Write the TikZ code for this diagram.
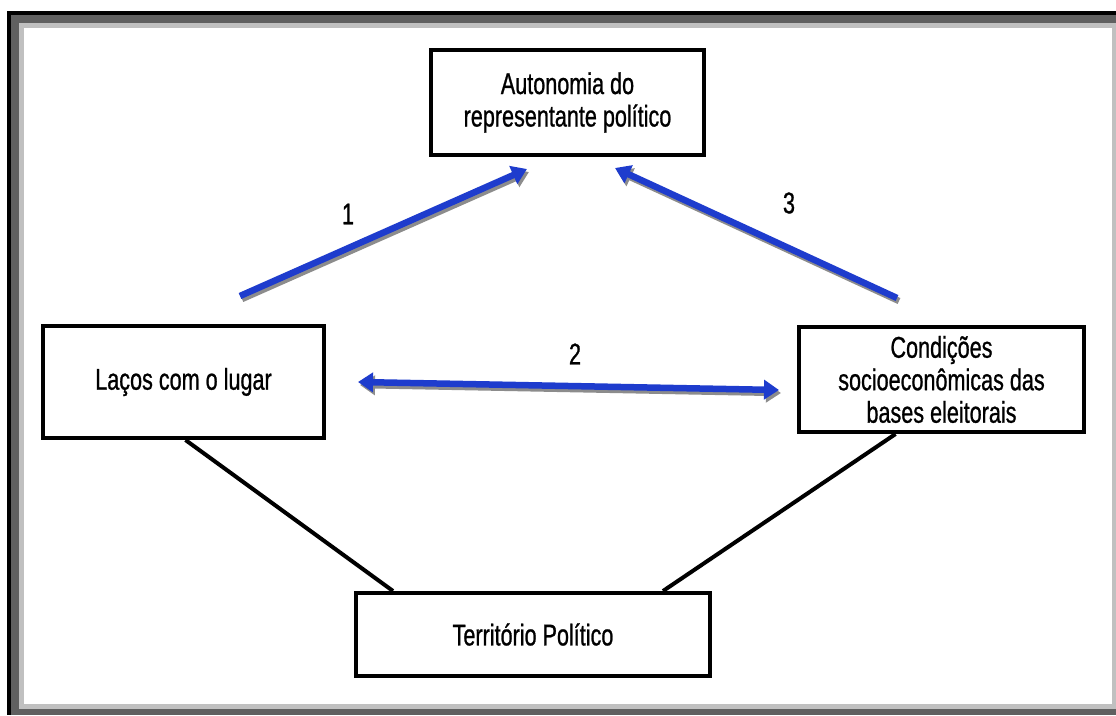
\documentclass[tikz,border=0pt]{standalone}
\usepackage{fontspec}
\setmainfont{Liberation Sans}[FakeStretch=0.72,FakeBold=0.8]
\usetikzlibrary{arrows.meta,calc}
\definecolor{arrowblue}{RGB}{30,60,205}
\definecolor{shadowgray}{RGB}{140,140,140}
\definecolor{frdark}{RGB}{96,96,96}
\definecolor{frlight}{RGB}{192,192,192}
\begin{document}
\begin{tikzpicture}[x=1pt,y=-1pt,
  box/.style={draw, line width=4pt, inner sep=0pt, align=center, font=\fontsize{30}{32.5}\selectfont},
  lbl/.style={inner sep=0pt, font=\fontsize{30}{32.5}\selectfont},
  conn/.style={line width=4pt, black},
  barrow/.style={line width=6.5pt, arrowblue, -{Triangle[length=15pt,width=19pt]}},
  bshadow/.style={line width=6.5pt, shadowgray, -{Triangle[length=15pt,width=19pt]}, transform canvas={shift={(2pt,-3pt)}}},
  bdarrow/.style={line width=6.5pt, arrowblue, {Triangle[length=15pt,width=19pt]}-{Triangle[length=15pt,width=19pt]}},
  bdshadow/.style={line width=6.5pt, shadowgray, {Triangle[length=15pt,width=19pt]}-{Triangle[length=15pt,width=19pt]}, transform canvas={shift={(2pt,-3pt)}}}
]
\useasboundingbox (0,0) rectangle (1116,715);
% frame
\fill[white] (0,0) rectangle (1116,715);
\fill[black] (7,11) rectangle (1116,715);
\fill[frdark] (11,15) rectangle (1116,715);
\fill[frlight] (19,23) rectangle (1116,709);
\fill[white] (24,28) rectangle (1112,704);
% boxes
\node[box, minimum width=273pt, minimum height=105pt] (T) at (567.5,102.5) {Autonomia do\\representante político};
\node[box, minimum width=281pt, minimum height=112pt] (L) at (183.5,382) {Laços com o lugar};
\node[box, minimum width=285pt, minimum height=105pt] (R) at (941.5,379.5) {Condições\\socioeconômicas das\\bases eleitorais};
\node[box, minimum width=354pt, minimum height=83pt] (B) at (533,634.5) {Território Político};
% black connectors
\draw[conn] ($(L.south)+(2,0)$) -- ($(B.north)+(-140,0)$);
\draw[conn] ($(R.south)+(-46,0)$) -- ($(B.north)+(130,0)$);
% blue arrows
\coordinate (a1s) at ($(L.north)+(56.5,-28)$);
\coordinate (a1e) at ($(T.south)+(-40.5,12)$);
\coordinate (a3s) at ($(R.north)+(-44.5,-27)$);
\coordinate (a3e) at ($(T.south)+(47.5,11)$);
\coordinate (a2s) at ($(L.east)+(32,0)$);
\coordinate (a2e) at ($(R.west)+(-18,10.5)$);
\draw[bshadow] (a1s) -- (a1e);
\draw[barrow] (a1s) -- (a1e);
\draw[bshadow] (a3s) -- (a3e);
\draw[barrow] (a3s) -- (a3e);
\draw[bdshadow] (a2s) -- (a2e);
\draw[bdarrow] (a2s) -- (a2e);
% labels
\node[lbl] (n1) at (348,214) {1};
\node[lbl] (n2) at (575,354) {2};
\node[lbl] (n3) at (789,203) {3};
\end{tikzpicture}
\end{document}
